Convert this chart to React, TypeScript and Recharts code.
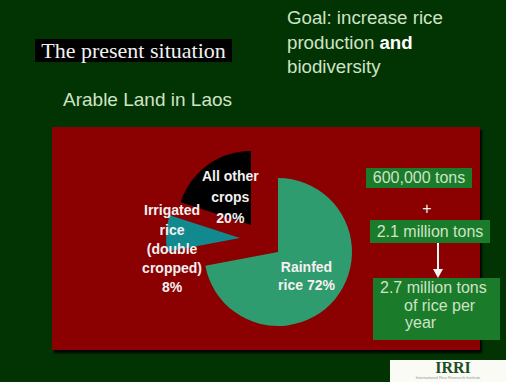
import React from "react";
import { PieChart, Pie, Cell } from "recharts";

// Arable land shares in Laos
const slices = ["Rainfed rice", "Irrigated rice (double cropped)", "All other crops"];
const shares = [72, 8, 20];
const labelLines = [
  ["Rainfed", "rice 72%"],
  ["Irrigated", "rice", "(double", "cropped)", "8%"],
  ["All other", "crops", "20%"],
];

// right-hand production boxes
const tonsNow = "600,000 tons";
const tonsAdded = "2.1 million tons";
const tonsGoal = ["2.7 million tons", "of rice per", "year"];

const COLORS = ["#2f9c70", "#11898f", "#000000"];
// exploded slices: each slice gets its own pie centre
const CENTERS = [
  [278, 252],
  [240, 238],
  [251, 225],
];
const LABEL_POS = [
  { frac: 0.5, dy: 0, lh: 18 },
  { frac: 0.92, dy: 15, lh: 19.2 },
  { frac: 0.475, dy: 0, lh: 21 },
];
const RADIUS = 74;
const RAD = Math.PI / 180;

const data = slices.map((name, i) => ({ name, value: shares[i] }));

const sans = "'Liberation Sans', Arial, sans-serif";
const serif = "'Liberation Serif', 'Times New Roman', serif";
const paleText = "#cfe3c6";
const boxGreen = "#1a7b2a";

const makeLabel = (target: number) => (props: any) => {
  const { cx, cy, midAngle, outerRadius, index } = props;
  if (index !== target) return null;
  const pos = LABEL_POS[target];
  const r = outerRadius * pos.frac;
  const x = cx + r * Math.cos(-midAngle * RAD);
  const y = cy + r * Math.sin(-midAngle * RAD) + pos.dy;
  const lines = labelLines[target];
  const y0 = y - ((lines.length - 1) * pos.lh) / 2;
  return (
    <text
      x={x}
      y={y0}
      fill="#f4f0f0"
      textAnchor="middle"
      dominantBaseline="central"
      fontFamily={sans}
      fontWeight="bold"
      fontSize={14}
    >
      {lines.map((l, k) => (
        <tspan key={k} x={x} y={y0 + k * pos.lh}>
          {l}
        </tspan>
      ))}
    </text>
  );
};

export default function App() {
  return (
    <div
      style={{
        position: "absolute",
        left: 0,
        top: 0,
        width: 506,
        height: 382,
        overflow: "hidden",
        background: "#023302",
        fontFamily: sans,
      }}
    >
      {/* title */}
      <div
        style={{
          position: "absolute",
          left: 35,
          top: 39,
          width: 197,
          height: 23,
          background: "#000",
          color: "#f2f2f2",
          fontFamily: serif,
          fontSize: 22,
          lineHeight: "23px",
          textAlign: "center",
          whiteSpace: "nowrap",
        }}
      >
        The present situation
      </div>

      <div
        style={{
          position: "absolute",
          left: 287,
          top: 6,
          color: paleText,
          fontSize: 18.7,
          lineHeight: "24.5px",
          whiteSpace: "nowrap",
        }}
      >
        Goal: increase rice
        <br />
        production <b style={{ color: "#ffffff" }}>and</b>
        <br />
        biodiversity
      </div>

      <div
        style={{
          position: "absolute",
          left: 63,
          top: 88,
          color: paleText,
          fontSize: 19,
          lineHeight: "24px",
          whiteSpace: "nowrap",
        }}
      >
        Arable Land in Laos
      </div>

      {/* red panel */}
      <div
        style={{
          position: "absolute",
          left: 52,
          top: 127,
          width: 428,
          height: 223,
          background: "#8b0102",
          boxShadow: "2px 3px 2px rgba(0,0,0,0.9)",
        }}
      />

      <div style={{ position: "absolute", left: 0, top: 0 }}>
        <PieChart width={506} height={382} margin={{ top: 0, right: 0, bottom: 0, left: 0 }}>
          {CENTERS.map(([cx, cy], target) => (
            <Pie
              key={target}
              data={data}
              dataKey="value"
              nameKey="name"
              cx={cx}
              cy={cy}
              outerRadius={RADIUS}
              startAngle={90}
              endAngle={-270}
              stroke="none"
              labelLine={false}
              label={makeLabel(target)}
              isAnimationActive={false}
            >
              {data.map((_, i) => (
                <Cell key={`cell-${i}`} fill={i === target ? COLORS[i] : "none"} />
              ))}
            </Pie>
          ))}
        </PieChart>
      </div>

      {/* production boxes */}
      <div
        style={{
          position: "absolute",
          left: 366,
          top: 168,
          width: 106,
          height: 20,
          background: boxGreen,
          color: paleText,
          fontSize: 16,
          lineHeight: "20px",
          textAlign: "center",
          whiteSpace: "nowrap",
        }}
      >
        {tonsNow}
      </div>
      <div
        style={{
          position: "absolute",
          left: 419,
          top: 198,
          width: 16,
          color: "#f0f0f0",
          fontSize: 16,
          lineHeight: "22px",
          textAlign: "center",
        }}
      >
        +
      </div>
      <div
        style={{
          position: "absolute",
          left: 370,
          top: 220,
          width: 120,
          height: 23,
          background: boxGreen,
          color: paleText,
          fontSize: 16,
          lineHeight: "23px",
          textAlign: "center",
          whiteSpace: "nowrap",
        }}
      >
        {tonsAdded}
      </div>
      <svg style={{ position: "absolute", left: 430, top: 243 }} width={16} height={36}>
        <line x1={8} y1={0} x2={8} y2={28} stroke="#f4f4f4" strokeWidth={2} />
        <polygon points="3,26 13,26 8,35" fill="#f4f4f4" />
      </svg>
      <div
        style={{
          position: "absolute",
          left: 373,
          top: 278,
          width: 127,
          height: 62,
          background: boxGreen,
          color: paleText,
          fontSize: 16,
          lineHeight: "17.5px",
          whiteSpace: "nowrap",
        }}
      >
        <div style={{ paddingLeft: 7, paddingTop: 1 }}>{tonsGoal[0]}</div>
        <div style={{ paddingLeft: 31 }}>{tonsGoal[1]}</div>
        <div style={{ paddingLeft: 32 }}>{tonsGoal[2]}</div>
      </div>

      {/* logo */}
      <div
        style={{
          position: "absolute",
          left: 390,
          top: 360,
          width: 116,
          height: 22,
          background: "#fbfbf6",
          textAlign: "center",
        }}
      >
        <div
          style={{
            fontFamily: serif,
            fontSize: 16,
            fontWeight: "bold",
            lineHeight: "15px",
            color: "#1d4d26",
            paddingLeft: 10,
          }}
        >
          IRRI
        </div>
        <div style={{ fontSize: 4, lineHeight: "6px", color: "#8a9a8a", whiteSpace: "nowrap" }}>
          International Rice Research Institute
        </div>
      </div>
    </div>
  );
}
